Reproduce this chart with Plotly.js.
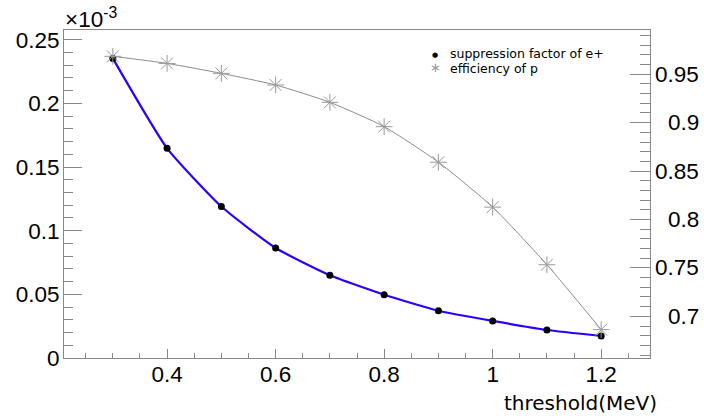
<!DOCTYPE html>
<html>
<head>
<meta charset="utf-8">
<script src="https://cdn.plot.ly/plotly-3.0.1.min.js"></script>
<style>html,body{margin:0;padding:0;background:#fff;}#chart{width:704px;height:418px;}</style>
</head>
<body>
<div id="chart"></div>
<script>
// threshold (MeV)
const thresholds = [0.3, 0.4, 0.5, 0.6, 0.7, 0.8, 0.9, 1.0, 1.1, 1.2];
// suppression factor of e+, in units of 1e-3 (left axis)
const suppressionE3 = [0.2353, 0.1647, 0.1190, 0.0864, 0.0650, 0.0497, 0.0371, 0.0291, 0.0220, 0.0173];
// efficiency of p (right axis)
const efficiencyP = [0.9685, 0.9612, 0.9509, 0.9389, 0.9210, 0.8959, 0.8592, 0.8128, 0.7533, 0.6863];
// right axis tick labels
const rightTicks = [0.7, 0.75, 0.8, 0.85, 0.9, 0.95];

const L = 64, R = 650, T = 30, B = 358, W = 704, H = 418;
const px = x => (x - L) / (R - L);
const py = y => (B - y) / (B - T);

const axisColor = '#888';
const tickFont = {family: 'Liberation Sans, Arial, sans-serif', size: 22.5, color: '#000'};
const legendFont = {family: 'DejaVu Sans, sans-serif', size: 12.5, color: '#000'};

const traces = [
  {
    x: thresholds, y: efficiencyP, yaxis: 'y2', type: 'scatter', mode: 'lines+markers',
    name: 'efficiency of p',
    line: {color: '#8c8c8c', width: 1, shape: 'spline', smoothing: 0.6},
    marker: {symbol: 'asterisk-open', size: 14, color: '#999', line: {color: '#999', width: 1}},
    showlegend: false
  },
  {
    x: thresholds, y: suppressionE3, yaxis: 'y', type: 'scatter', mode: 'lines+markers',
    name: 'suppression factor of e+',
    line: {color: '#2a00ff', width: 2.2, shape: 'spline', smoothing: 0.5},
    marker: {symbol: 'circle', size: 7, color: '#000'},
    showlegend: false
  }
];

const annotations = rightTicks.map(v => ({
  xref: 'paper', yref: 'y2', x: px(701), y: v, xanchor: 'right', yanchor: 'middle',
  text: String(v), showarrow: false, font: tickFont
}));

annotations.push(
  {xref: 'paper', yref: 'paper', x: px(63), y: py(31), xanchor: 'left', yanchor: 'bottom',
   text: '×10<sup>-3</sup>', showarrow: false, font: tickFont, yshift: -3},
  {xref: 'paper', yref: 'paper', x: px(659), y: py(403), xanchor: 'right', yanchor: 'middle',
   text: 'threshold(MeV)', showarrow: false,
   font: {family: 'DejaVu Sans, sans-serif', size: 20, color: '#000'}},
  {xref: 'paper', yref: 'paper', x: px(448), y: py(54), xanchor: 'left', yanchor: 'middle',
   text: 'suppression factor of e+', showarrow: false, font: legendFont},
  {xref: 'paper', yref: 'paper', x: px(448), y: py(68), xanchor: 'left', yanchor: 'middle',
   text: 'efficiency of p', showarrow: false, font: legendFont},
  {xref: 'paper', yref: 'paper', x: px(435), y: py(55), xanchor: 'center', yanchor: 'middle',
   text: '●', showarrow: false,
   font: {family: 'DejaVu Sans, sans-serif', size: 7, color: '#000'}},
  {xref: 'paper', yref: 'paper', x: px(435), y: py(67), xanchor: 'center', yanchor: 'middle',
   text: '∗', showarrow: false,
   font: {family: 'DejaVu Sans, sans-serif', size: 13, color: '#999'}}
);

const layout = {
  width: W, height: H,
  margin: {l: L, r: W - R, t: T, b: H - B, pad: 0},
  paper_bgcolor: '#fff', plot_bgcolor: '#fff',
  showlegend: false,
  xaxis: {
    range: [0.21, 1.29], tick0: 0.2, dtick: 0.2,
    ticks: 'inside', ticklen: 9, tickcolor: axisColor, tickwidth: 1,
    minor: {dtick: 0.05, tick0: 0.2, ticks: 'inside', ticklen: 5, tickcolor: axisColor, tickwidth: 1, showgrid: false},
    showline: true, linecolor: axisColor, linewidth: 1, mirror: true,
    showgrid: false, zeroline: false, tickfont: tickFont, ticklabelstandoff: -4
  },
  yaxis: {
    range: [0, 0.2576], tick0: 0, dtick: 0.05,
    ticks: 'inside', ticklen: 18, tickcolor: axisColor, tickwidth: 1,
    minor: {dtick: 0.01, tick0: 0, ticks: 'inside', ticklen: 9, tickcolor: axisColor, tickwidth: 1, showgrid: false},
    showline: true, linecolor: axisColor, linewidth: 1, mirror: true,
    showgrid: false, zeroline: false, tickfont: tickFont, ticklabelstandoff: -1
  },
  yaxis2: {
    overlaying: 'y', side: 'right',
    range: [0.657, 0.9957], tick0: 0.7, dtick: 0.05,
    ticks: 'inside', ticklen: 20, tickcolor: axisColor, tickwidth: 1,
    minor: {dtick: 0.01, tick0: 0.7, ticks: 'inside', ticklen: 10, tickcolor: axisColor, tickwidth: 1, showgrid: false},
    showline: true, linecolor: axisColor, linewidth: 1,
    showgrid: false, zeroline: false, showticklabels: false
  },
  annotations: annotations
};

Plotly.newPlot('chart', traces, layout, {staticPlot: true, displayModeBar: false});
</script>
</body>
</html>
